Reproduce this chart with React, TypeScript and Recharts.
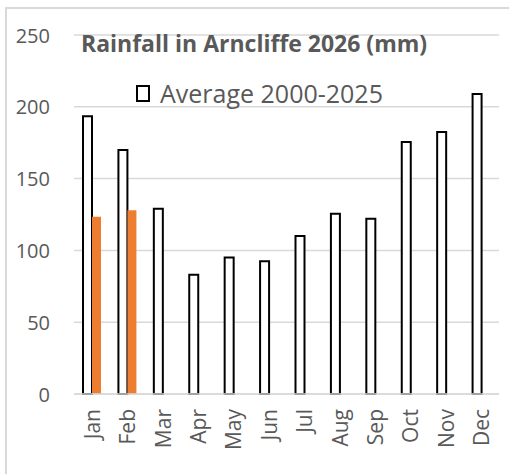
import React from "react";
import { BarChart, Bar, XAxis, YAxis, CartesianGrid } from "recharts";

const months = ["Jan", "Feb", "Mar", "Apr", "May", "Jun", "Jul", "Aug", "Sep", "Oct", "Nov", "Dec"];
const average = [193.5, 170, 129, 83, 95, 92.5, 110, 125.5, 122, 175.5, 182.5, 209];
const rain2026: (number | null)[] = [123.5, 128, null, null, null, null, null, null, null, null, null, null];
const yTicks = [0, 50, 100, 150, 200, 250];

const data = months.map((m, i) => ({ month: m, average: average[i], y2026: rain2026[i] }));

const TEXT = "#595959";
const FONT = "'Open Sans', sans-serif";

function MonthTick({ x, y, payload }: any) {
  return (
    <text
      x={x}
      y={y}
      transform={`rotate(-90, ${x}, ${y})`}
      textAnchor="end"
      dominantBaseline="central"
      fontSize={21}
      fill={TEXT}
      fontFamily={FONT}
    >
      {payload.value}
    </text>
  );
}

function ValueTick({ y, payload }: any) {
  return (
    <text x={50} y={y} textAnchor="end" dominantBaseline="central" fontSize={20} fill={TEXT} fontFamily={FONT}>
      {payload.value}
    </text>
  );
}

export default function App() {
  return (
    <div style={{ position: "absolute", left: 0, top: 0, width: 509, height: 474, background: "#fff" }}>
      <div
        style={{
          position: "absolute",
          left: 5,
          top: 7,
          right: 0,
          bottom: 0,
          borderLeft: "2px solid #d9d9d9",
          borderTop: "2px solid #d9d9d9",
        }}
      />
      <BarChart
        width={509}
        height={474}
        data={data}
        margin={{ top: 35, right: 10, left: 0, bottom: 0 }}
        barGap={0}
        barSize={9}
      >
        <CartesianGrid vertical={false} stroke="#d9d9d9" strokeWidth={1.5} />
        <XAxis
          dataKey="month"
          height={80}
          axisLine={{ stroke: "#d9d9d9", strokeWidth: 1.5 }}
          tickLine={false}
          tickSize={0}
          tickMargin={15}
          interval={0}
          tick={<MonthTick />}
        />
        <YAxis
          width={74}
          domain={[0, 250]}
          ticks={yTicks}
          axisLine={false}
          tickLine={false}
          tick={<ValueTick />}
        />
        <Bar dataKey="average" name="Average 2000-2025" fill="#fff" stroke="#000" strokeWidth={2} isAnimationActive={false} />
        <Bar dataKey="y2026" name="2026" fill="#ED7D31" isAnimationActive={false} />
      </BarChart>
      <div
        style={{
          position: "absolute",
          left: 81,
          top: 27,
          fontFamily: FONT,
          fontWeight: 700,
          fontSize: 23,
          color: TEXT,
          whiteSpace: "nowrap",
        }}
      >
        Rainfall in Arncliffe 2026 (mm)
      </div>
      <div
        style={{
          position: "absolute",
          left: 136,
          top: 76,
          display: "flex",
          alignItems: "center",
          fontFamily: FONT,
          fontSize: 25,
          color: TEXT,
          whiteSpace: "nowrap",
        }}
      >
        <span style={{ width: 10, height: 13, border: "2px solid #000", background: "#fff", marginRight: 10 }} />
        <span>Average 2000-2025</span>
      </div>
    </div>
  );
}
